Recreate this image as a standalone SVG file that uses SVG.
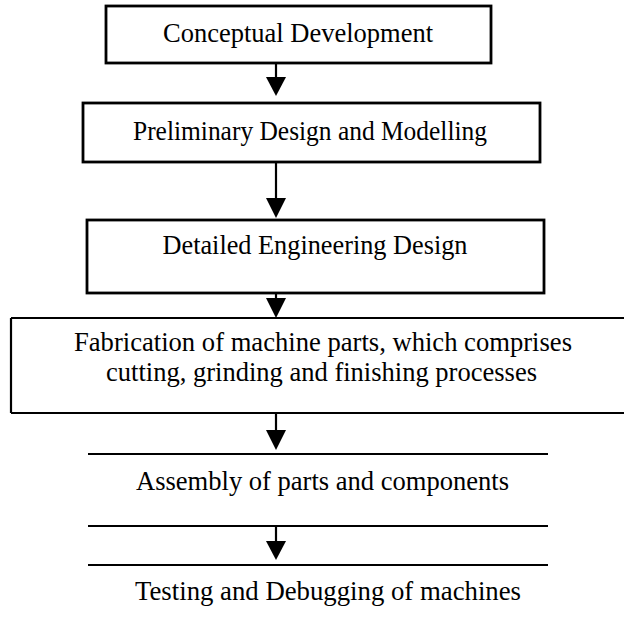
<svg xmlns="http://www.w3.org/2000/svg" width="624" height="633" viewBox="0 0 624 633">
<style>
.box{fill:#fff;stroke:#000;stroke-width:2.8}
.ln{stroke:#000;stroke-width:2.2;fill:none}
.ar{fill:#000}
.t{font-family:"Liberation Serif","Times New Roman",serif;font-size:26.5px;fill:#000;text-anchor:middle}
</style>
<rect width="624" height="633" fill="#fff"/>
<g id="connectors">
<path class="ln" d="M276,63 V85"/>
<polygon class="ar" points="266,77 286,77 276,96"/>
<path class="ln" d="M276,162 V205"/>
<polygon class="ar" points="266,198 286,198 276,218"/>
<path class="ln" d="M276,293 V305"/>
<polygon class="ar" points="266,298 286,298 276,318"/>
<path class="ln" d="M276,413 V437"/>
<polygon class="ar" points="266,430 286,430 276,450"/>
<path class="ln" d="M276,526 V548"/>
<polygon class="ar" points="266,541 286,541 276,560"/>
</g>
<g id="n1">
<rect class="box" x="106" y="6" width="385" height="57"/>
<text class="t" x="298" y="42" textLength="270" lengthAdjust="spacingAndGlyphs">Conceptual Development</text>
</g>
<g id="n2">
<rect class="box" x="83" y="103" width="457" height="59"/>
<text class="t" x="310" y="140" textLength="354" lengthAdjust="spacingAndGlyphs">Preliminary Design and Modelling</text>
</g>
<g id="n3">
<rect class="box" x="87" y="220" width="457" height="73"/>
<text class="t" x="315" y="254" textLength="305" lengthAdjust="spacingAndGlyphs">Detailed Engineering Design</text>
</g>
<g id="n4">
<path class="ln" d="M11,318 H624 M11,318 V413 M11,413 H624"/>
<text class="t" x="323" y="351" textLength="498" lengthAdjust="spacingAndGlyphs">Fabrication of machine parts, which comprises</text>
<text class="t" x="321.5" y="381" textLength="431" lengthAdjust="spacingAndGlyphs">cutting, grinding and finishing processes</text>
</g>
<g id="n5">
<path class="ln" d="M88,454 H548 M88,526 H548"/>
<text class="t" x="322.5" y="490" textLength="373" lengthAdjust="spacingAndGlyphs">Assembly of parts and components</text>
</g>
<g id="n6">
<path class="ln" d="M88,565 H548"/>
<text class="t" x="328" y="600" textLength="386" lengthAdjust="spacingAndGlyphs">Testing and Debugging of machines</text>
</g>
</svg>
